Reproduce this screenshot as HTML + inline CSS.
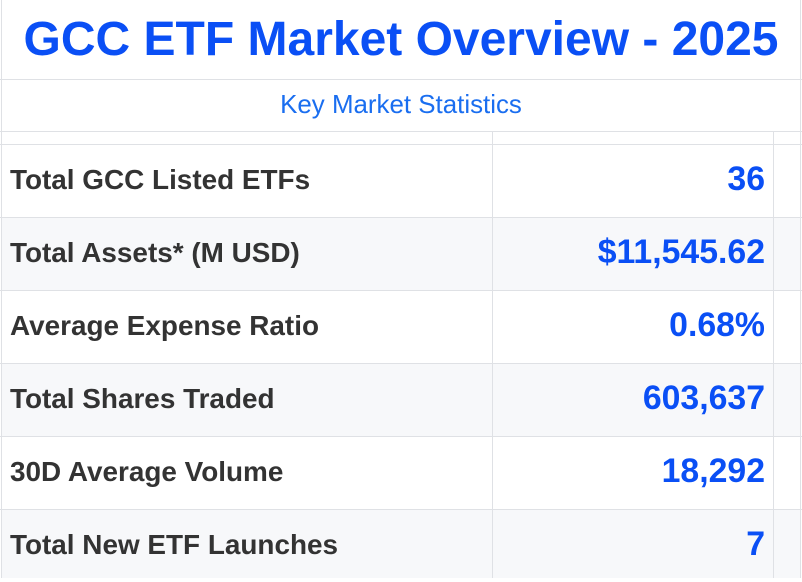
<!DOCTYPE html>
<html><head><meta charset="utf-8"><style>
body{margin:0;width:802px;height:578px;overflow:hidden;background:#fff;font-family:"Liberation Sans",Arial,sans-serif;position:relative}
.t{position:absolute;left:0;width:802px;top:11px;text-align:center;font-weight:bold;font-size:48px;color:#0a4ff5;line-height:58px}
.s{position:absolute;left:0;width:802px;top:90px;text-align:center;font-size:25.9px;color:#1a6ef0;line-height:30px}
.h{position:absolute;left:0;width:802px;height:1px;background:#dfe1e5}
.v{position:absolute;width:1px;background:#dfe1e5}
.r{position:absolute;left:1px;width:800px;height:72px}
.l{position:absolute;left:9px;top:-1px;line-height:72px;font-weight:bold;font-size:27.9px;color:#333}
.n{position:absolute;right:36px;top:-2px;line-height:72px;font-weight:bold;font-size:33.8px;color:#0a4ff5}
</style></head><body>
<div class="t">GCC ETF Market Overview - 2025</div>
<div class="s">Key Market Statistics</div>
<div class="r" style="top:218px;background:#f7f8fa"></div>
<div class="r" style="top:364px;background:#f7f8fa"></div>
<div class="r" style="top:510px;height:68px;background:#f7f8fa"></div>
<div class="h" style="top:79px"></div>
<div class="h" style="top:131px"></div>
<div class="h" style="top:144px"></div>
<div class="h" style="top:217px"></div>
<div class="h" style="top:290px"></div>
<div class="h" style="top:363px"></div>
<div class="h" style="top:436px"></div>
<div class="h" style="top:509px"></div>
<div class="v" style="left:1px;top:0;height:578px"></div>
<div class="v" style="left:800px;top:0;height:578px"></div>
<div class="v" style="left:492px;top:131px;height:447px"></div>
<div class="v" style="left:773px;top:131px;height:447px"></div>
<div class="r" style="top:145px"><div class="l">Total GCC Listed ETFs</div><div class="n">36</div></div>
<div class="r" style="top:218px"><div class="l">Total Assets* (M USD)</div><div class="n">$11,545.62</div></div>
<div class="r" style="top:291px"><div class="l">Average Expense Ratio</div><div class="n">0.68%</div></div>
<div class="r" style="top:364px"><div class="l">Total Shares Traded</div><div class="n">603,637</div></div>
<div class="r" style="top:437px"><div class="l">30D Average Volume</div><div class="n">18,292</div></div>
<div class="r" style="top:510px"><div class="l">Total New ETF Launches</div><div class="n">7</div></div>
</body></html>
